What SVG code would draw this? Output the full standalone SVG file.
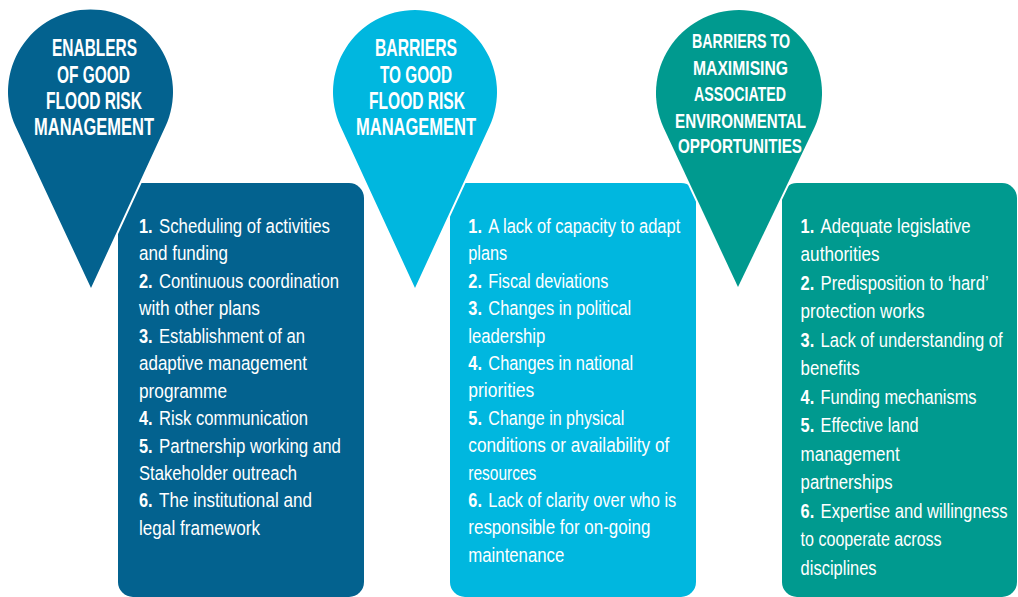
<svg xmlns="http://www.w3.org/2000/svg" width="1018" height="597" viewBox="0 0 1018 597">
<style>
.t{font-family:"Liberation Sans",Arial,sans-serif;font-size:19.5px;fill:#fff}
.n{font-weight:bold}
.h{font-family:"Liberation Sans",Arial,sans-serif;font-weight:bold;font-size:24.5px;fill:#fff;text-anchor:middle}
.h3{font-size:21px}
.pin{stroke:#fff;stroke-width:4;paint-order:stroke;stroke-linejoin:round}
.c1{fill:#03628f}
.c2{fill:#00b7df}
.c3{fill:#009a8f}
</style>
<rect width="1018" height="597" fill="#fff"/>
<g id="connectors"/>

<g id="box1">
<rect class="c1" x="118" y="183" width="246" height="414" rx="15"/>
<g transform="translate(139 0) scale(0.84 1)">
<text class="t n" x="0" y="233">1.</text><text class="t" x="23.8" y="233" textLength="203.6" lengthAdjust="spacingAndGlyphs">Scheduling of activities</text>
<text class="t" x="0" y="260.5" textLength="106" lengthAdjust="spacingAndGlyphs">and funding</text>
<text class="t n" x="0" y="288">2.</text><text class="t" x="23.8" y="288" textLength="214.3" lengthAdjust="spacingAndGlyphs">Continuous coordination</text>
<text class="t" x="0" y="315.4" textLength="144" lengthAdjust="spacingAndGlyphs">with other plans</text>
<text class="t n" x="0" y="342.8">3.</text><text class="t" x="23.8" y="342.8" textLength="173.8" lengthAdjust="spacingAndGlyphs">Establishment of an</text>
<text class="t" x="0" y="370.3" textLength="200" lengthAdjust="spacingAndGlyphs">adaptive management</text>
<text class="t" x="0" y="397.7" textLength="104.8" lengthAdjust="spacingAndGlyphs">programme</text>
<text class="t n" x="0" y="425.2">4.</text><text class="t" x="23.8" y="425.2" textLength="177.4" lengthAdjust="spacingAndGlyphs">Risk communication</text>
<text class="t n" x="0" y="452.6">5.</text><text class="t" x="23.8" y="452.6" textLength="216.7" lengthAdjust="spacingAndGlyphs">Partnership working and</text>
<text class="t" x="0" y="480" textLength="188.1" lengthAdjust="spacingAndGlyphs">Stakeholder outreach</text>
<text class="t n" x="0" y="507.5">6.</text><text class="t" x="23.8" y="507.5" textLength="182.1" lengthAdjust="spacingAndGlyphs">The institutional and</text>
<text class="t" x="0" y="535" textLength="144" lengthAdjust="spacingAndGlyphs">legal framework</text>
</g>
</g>

<g id="box2">
<rect class="c2" x="450" y="183" width="246" height="414" rx="15"/>
<g transform="translate(468.3 0) scale(0.84 1)">
<text class="t n" x="0" y="233">1.</text><text class="t" x="23.8" y="233" textLength="228.6" lengthAdjust="spacingAndGlyphs">A lack of capacity to adapt</text>
<text class="t" x="0" y="260.4" textLength="46.4" lengthAdjust="spacingAndGlyphs">plans</text>
<text class="t n" x="0" y="287.8">2.</text><text class="t" x="23.8" y="287.8" textLength="142.9" lengthAdjust="spacingAndGlyphs">Fiscal deviations</text>
<text class="t n" x="0" y="315.2">3.</text><text class="t" x="23.8" y="315.2" textLength="170.2" lengthAdjust="spacingAndGlyphs">Changes in political</text>
<text class="t" x="0" y="342.6" textLength="91.7" lengthAdjust="spacingAndGlyphs">leadership</text>
<text class="t n" x="0" y="370">4.</text><text class="t" x="23.8" y="370" textLength="172.6" lengthAdjust="spacingAndGlyphs">Changes in national</text>
<text class="t" x="0" y="397.4" textLength="78.6" lengthAdjust="spacingAndGlyphs">priorities</text>
<text class="t n" x="0" y="424.8">5.</text><text class="t" x="23.8" y="424.8" textLength="161.9" lengthAdjust="spacingAndGlyphs">Change in physical</text>
<text class="t" x="0" y="452.2" textLength="239.3" lengthAdjust="spacingAndGlyphs">conditions or availability of</text>
<text class="t" x="0" y="479.6" textLength="81" lengthAdjust="spacingAndGlyphs">resources</text>
<text class="t n" x="0" y="507">6.</text><text class="t" x="23.8" y="507" textLength="223.8" lengthAdjust="spacingAndGlyphs">Lack of clarity over who is</text>
<text class="t" x="0" y="534.4" textLength="216.7" lengthAdjust="spacingAndGlyphs">responsible for on-going</text>
<text class="t" x="0" y="561.8" textLength="114.3" lengthAdjust="spacingAndGlyphs">maintenance</text>
</g>
</g>

<g id="box3">
<rect class="c3" x="782" y="183" width="235" height="414" rx="15"/>
<g transform="translate(800.6 0) scale(0.84 1)">
<text class="t n" x="0" y="233">1.</text><text class="t" x="23.8" y="233" textLength="178.6" lengthAdjust="spacingAndGlyphs">Adequate legislative</text>
<text class="t" x="0" y="261.5" textLength="94" lengthAdjust="spacingAndGlyphs">authorities</text>
<text class="t n" x="0" y="290">2.</text><text class="t" x="23.8" y="290" textLength="200" lengthAdjust="spacingAndGlyphs">Predisposition to ‘hard’</text>
<text class="t" x="0" y="318.5" textLength="147.6" lengthAdjust="spacingAndGlyphs">protection works</text>
<text class="t n" x="0" y="347">3.</text><text class="t" x="23.8" y="347" textLength="216.7" lengthAdjust="spacingAndGlyphs">Lack of understanding of</text>
<text class="t" x="0" y="375.5" textLength="70.2" lengthAdjust="spacingAndGlyphs">benefits</text>
<text class="t n" x="0" y="404">4.</text><text class="t" x="23.8" y="404" textLength="185.7" lengthAdjust="spacingAndGlyphs">Funding mechanisms</text>
<text class="t n" x="0" y="432.5">5.</text><text class="t" x="23.8" y="432.5" textLength="116.7" lengthAdjust="spacingAndGlyphs">Effective land</text>
<text class="t" x="0" y="461" textLength="117.9" lengthAdjust="spacingAndGlyphs">management</text>
<text class="t" x="0" y="489.5" textLength="109.5" lengthAdjust="spacingAndGlyphs">partnerships</text>
<text class="t n" x="0" y="518">6.</text><text class="t" x="23.8" y="518" textLength="222.6" lengthAdjust="spacingAndGlyphs">Expertise and willingness</text>
<text class="t" x="0" y="546.5" textLength="167.9" lengthAdjust="spacingAndGlyphs">to cooperate across</text>
<text class="t" x="0" y="575" textLength="90.5" lengthAdjust="spacingAndGlyphs">disciplines</text>
</g>
</g>

<g id="pin1">
<path class="pin c1" d="M91 288 L15.6 126.5 A82.5 82.5 0 1 1 165.4 126.5 Z"/>
<text class="h" transform="translate(94.5 56) scale(0.7 1)" textLength="121.4" lengthAdjust="spacingAndGlyphs">ENABLERS</text>
<text class="h" transform="translate(93.5 82.7) scale(0.7 1)" textLength="104.3" lengthAdjust="spacingAndGlyphs">OF GOOD</text>
<text class="h" transform="translate(94 109) scale(0.7 1)" textLength="137.1" lengthAdjust="spacingAndGlyphs">FLOOD RISK</text>
<text class="h" transform="translate(94 135) scale(0.7 1)" textLength="171.4" lengthAdjust="spacingAndGlyphs">MANAGEMENT</text>
</g>

<g id="pin2">
<path class="pin c2" d="M415 288 L340.6 126.5 A82 82 0 1 1 489.4 126.5 Z"/>
<text class="h" transform="translate(416 56) scale(0.7 1)" textLength="117.1" lengthAdjust="spacingAndGlyphs">BARRIERS</text>
<text class="h" transform="translate(416 82.7) scale(0.7 1)" textLength="102.9" lengthAdjust="spacingAndGlyphs">TO GOOD</text>
<text class="h" transform="translate(417 109) scale(0.7 1)" textLength="137.1" lengthAdjust="spacingAndGlyphs">FLOOD RISK</text>
<text class="h" transform="translate(416 135) scale(0.7 1)" textLength="171.4" lengthAdjust="spacingAndGlyphs">MANAGEMENT</text>
</g>

<g id="pin3">
<path class="pin c3" d="M738 287 L663.5 127.5 A83 83 0 1 1 814.5 127.5 Z"/>
<text class="h h3" transform="translate(741 48) scale(0.7 1)" textLength="140" lengthAdjust="spacingAndGlyphs">BARRIERS TO</text>
<text class="h h3" transform="translate(740.5 75) scale(0.7 1)" textLength="135.7" lengthAdjust="spacingAndGlyphs">MAXIMISING</text>
<text class="h h3" transform="translate(740 101) scale(0.7 1)" textLength="131.4" lengthAdjust="spacingAndGlyphs">ASSOCIATED</text>
<text class="h h3" transform="translate(740.5 128) scale(0.7 1)" textLength="187.1" lengthAdjust="spacingAndGlyphs">ENVIRONMENTAL</text>
<text class="h h3" transform="translate(740 153) scale(0.7 1)" textLength="177.1" lengthAdjust="spacingAndGlyphs">OPPORTUNITIES</text>
</g>
</svg>
